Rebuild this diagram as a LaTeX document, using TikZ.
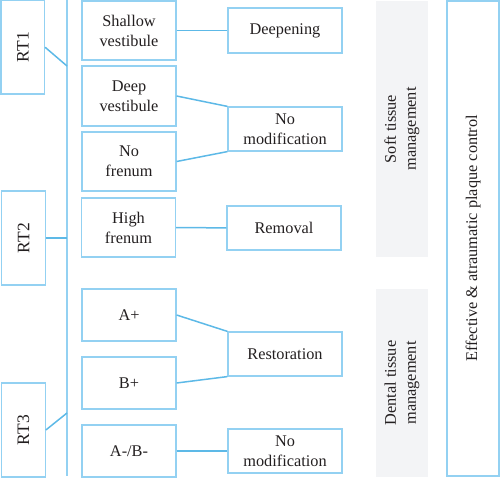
\documentclass[tikz,border=0pt]{standalone}
\usepackage{fontspec}
\setmainfont{Liberation Serif}
\definecolor{boxblue}{HTML}{93D1F2}
\definecolor{lineblue}{HTML}{5DB9E7}
\definecolor{panelgray}{HTML}{F3F4F6}
\definecolor{textgray}{HTML}{231F20}
\begin{document}
\begin{tikzpicture}
[every node/.style={inner sep=0pt, text=textgray, font=\fontsize{16.3}{20}\selectfont, align=center},
 rtbox/.style={rectangle, rotate=90, minimum width=93.5pt, minimum height=43.5pt, line width=1.2pt, draw=boxblue, font=\fontsize{17.5}{21}\selectfont},
 midbox/.style={rectangle, minimum width=94pt, line width=1.2pt, draw=boxblue},
 endbox/.style={rectangle, minimum width=114pt, minimum height=44pt, line width=1.2pt, draw=boxblue},
 panel/.style={rectangle, rotate=90, minimum height=52pt, fill=panelgray},
 link/.style={line width=1.5pt, color=lineblue}]
\useasboundingbox (0pt, 0pt) rectangle (500pt, -478pt);
\node (rt1) [rtbox] at (22.75pt, -47.25pt) {RT1};
\node (rt2) [rtbox, minimum width=94pt] at (23.5pt, -238pt) {RT2};
\node (rt3) [rtbox, minimum width=94pt] at (23.5pt, -430pt) {RT3};
\coordinate (spinetop) at (67pt, 0pt);
\coordinate (spinebot) at (67pt, -476pt);
\coordinate (j1) at (67pt, -66pt);
\coordinate (j2) at (67pt, -238pt);
\coordinate (j3) at (67pt, -413pt);
\node (shallow) [midbox, minimum height=59pt] at (129pt, -30.5pt) {Shallow\\vestibule};
\node (deep) [midbox, minimum height=60pt] at (129pt, -96pt) {Deep\\vestibule};
\node (nofrenum) [midbox, minimum height=59pt] at (129pt, -161.5pt) {No\\frenum};
\node (highfrenum) [midbox, minimum height=59pt] at (128.5pt, -227.5pt) {High\\frenum};
\node (aplus) [midbox, minimum height=52pt] at (129pt, -315pt) {A+};
\node (bplus) [midbox, minimum height=52pt] at (129pt, -383pt) {B+};
\node (aminus) [midbox, minimum height=52pt] at (129pt, -451pt) {A-/B-};
\node (deepening) [endbox, minimum height=45pt] at (285pt, -30.5pt) {Deepening};
\node (nomod1) [endbox] at (285pt, -129pt) {No\\modification};
\node (removal) [endbox] at (284pt, -228pt) {Removal};
\node (restoration) [endbox] at (285pt, -354pt) {Restoration};
\node (nomod2) [endbox] at (285pt, -451pt) {No\\modification};
\node (soft) [panel, minimum width=256pt] at (402pt, -129pt) {Soft tissue\\management};
\node (dental) [panel, minimum width=188pt] at (402pt, -383pt) {Dental tissue\\management};
\node (plaque) [rectangle, rotate=90, minimum width=475pt, minimum height=52pt, line width=1.2pt, draw=boxblue] at (473pt, -238.5pt) {Effective \& atraumatic plaque control};
\draw [line width=1.2pt, color=boxblue] (spinetop) to (spinebot);
\draw [link] (rt1.south) to (j1);
\draw [link] (rt2.south) to (j2);
\draw [link] (rt3.south) to (j3);
\draw [link] (shallow) to (deepening);
\draw [link] (deep.east) to (nomod1.north west);
\draw [link] (nofrenum.east) to (nomod1.south west);
\draw [link] (highfrenum) to (removal);
\draw [link] (aplus.east) to (restoration.north west);
\draw [link] (bplus.east) to (restoration.south west);
\draw [link] (aminus) to (nomod2);
\end{tikzpicture}
\end{document}
